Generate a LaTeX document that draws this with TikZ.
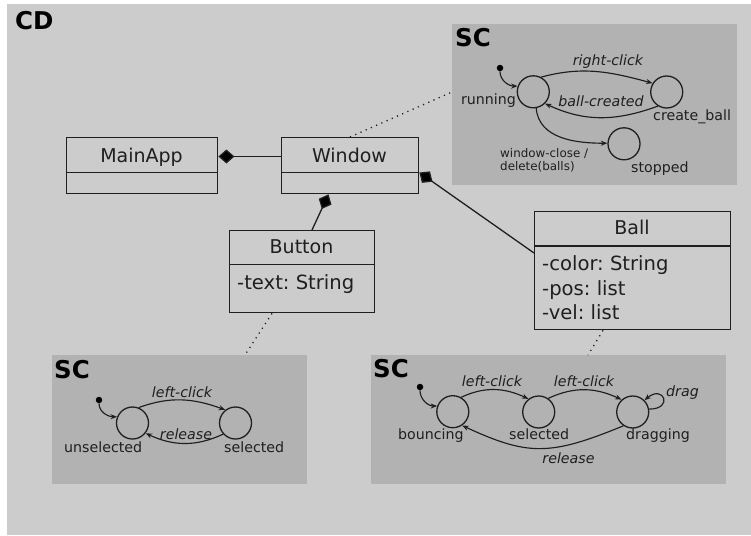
\documentclass[tikz,border=0pt]{standalone}
\usepackage{fontspec}
\setmainfont{DejaVu Sans}
\usetikzlibrary{arrows.meta,calc}
\definecolor{bgouter}{gray}{0.80}
\definecolor{bgsc}{gray}{0.70}
\definecolor{ink}{gray}{0.12}
\begin{document}
\frenchspacing
\begin{tikzpicture}[x=1pt,y=1pt,
  cls/.style={draw=ink, line width=1.4pt, inner sep=0pt, anchor=north west},
  clsname/.style={font=\fontsize{19}{22}\selectfont, text=ink, inner sep=0pt, anchor=base},
  attr/.style={font=\fontsize{19.6}{23}\selectfont, text=ink, inner sep=0pt, anchor=base west},
  scbox/.style={fill=bgsc, draw=none, inner sep=0pt, anchor=north west},
  title/.style={font=\fontsize{24.5}{28}\selectfont\bfseries, text=black, inner sep=0pt, anchor=base west},
  state/.style={circle, draw=ink, line width=1.3pt, minimum size=32pt, inner sep=0pt},
  slabel/.style={font=\fontsize{14.2}{17}\selectfont, text=ink, inner sep=0pt},
  tlabel/.style={font=\fontsize{14.2}{17}\selectfont\itshape, text=ink, inner sep=0pt, anchor=base},
  smalllabel/.style={font=\fontsize{11.9}{13.5}\selectfont, text=ink, inner sep=0pt, anchor=base west},
  trans/.style={draw=ink, line width=1.15pt, -{Stealth[length=6.5pt,width=5pt]}},
  initdot/.style={circle, fill=black, minimum size=6.5pt, inner sep=0pt},
  comp/.style={draw=ink, line width=1.3pt, -{Diamond[length=16pt,width=14pt,fill=black]}},
  dots/.style={draw=ink, line width=1.3pt, dash pattern=on 1.2pt off 4.5pt},
  divider/.style={draw=ink, line width=1.4pt},
]
\useasboundingbox (0,0) rectangle (751,-535);
\fill[bgouter] (7,-4) rectangle (751,-535);
\node[title] (cd) at (15,-30) {CD};

% state chart boxes
\node[scbox, minimum width=285pt, minimum height=161pt] (sc1) at (452,-24) {};
\node[scbox, minimum width=255pt, minimum height=129pt] (sc2) at (52,-355) {};
\node[scbox, minimum width=355pt, minimum height=129pt] (sc3) at (371,-355) {};

% classes
\node[cls, minimum width=151pt, minimum height=56pt] (mainapp) at (66,-137) {};
\draw[divider] ($(mainapp.north west)+(0,-35.5)$) -- ($(mainapp.north east)+(0,-35.5)$);
\node[clsname] (mainappname) at (141.5,-162.7) {MainApp};

\node[cls, minimum width=137pt, minimum height=56pt] (window) at (281,-137) {};
\draw[divider] ($(window.north west)+(0,-35.5)$) -- ($(window.north east)+(0,-35.5)$);
\node[clsname] (windowname) at (349.5,-162.7) {Window};

\node[cls, minimum width=145pt, minimum height=82pt] (button) at (229,-230) {};
\draw[divider] ($(button.north west)+(0,-34.5)$) -- ($(button.north east)+(0,-34.5)$);
\node[clsname] (buttonname) at (301.5,-253.3) {Button};
\node[attr] (buttonattr) at (237,-289.3) {-text: String};

\node[cls, minimum width=196pt, minimum height=118pt] (ball) at (534,-211) {};
\draw[divider] ($(ball.north west)+(0,-35)$) -- ($(ball.north east)+(0,-35)$);
\node[clsname] (ballname) at (632,-234.3) {Ball};
\node[attr] (ballattr1) at (542,-270.7) {-color: String};
\node[attr] (ballattr2) at (542,-295) {-pos: list};
\node[attr] (ballattr3) at (542,-319.3) {-vel: list};

% composition connectors
\draw[comp] ($(window.north west)+(0,-19.5)$) -- ($(mainapp.north east)+(0,-19.5)$);
\draw[comp] ($(button.north west)+(83,0)$) -- ($(window.south west)+(47.5,0)$);
\draw[comp] ($(ball.north west)+(0,-42)$) -- ($(window.north east)+(0,-35.5)$);

% dotted links to state charts
\draw[dots] ($(window.north west)+(69,0)$) -- ($(sc1.north west)+(0,-68)$);
\draw[dots] ($(button.south west)+(43,0)$) -- ($(sc2.north west)+(193,0)$);
\draw[dots] ($(ball.south west)+(69,0)$) -- ($(sc3.north west)+(217,0)$);

% state chart 1
\node[title] (sc1t) at (455,-47) {SC};
\node[initdot] (dot1) at (500,-68) {};
\node[state] (running) at (533.3,-91.8) {};
\node[state] (createball) at (666.7,-92) {};
\node[state] (stopped) at (624,-143.8) {};
\node[slabel, anchor=base east] (runningl) at (516,-104) {running};
\node[slabel, anchor=base west] (createballl) at (653,-120.5) {create\_ball};
\node[slabel, anchor=base west] (stoppedl) at (631,-172) {stopped};
\node[tlabel] (rclick) at (608,-65.5) {right-click};
\node[tlabel] (bcreated) at (601,-106) {ball-created};
\node[smalllabel] (wclose1) at (500,-157.5) {window-close /};
\node[smalllabel] (wclose2) at (500,-170.5) {delete(balls)};
\draw[trans] (dot1) to[out=-90,in=180] (running.160);
\draw[trans] (running.62) to[out=15,in=165] (createball.148);
\draw[trans] (createball.238) to[out=200,in=-25] (running.-45);
\draw[trans] (running.-80) to[out=-85,in=180] (stopped.178);

% state chart 2
\node[title] (sc2t) at (54,-378) {SC};
\node[initdot] (dot2) at (99,-400) {};
\node[state] (unsel) at (132.5,-423) {};
\node[state] (sel1) at (235.5,-423) {};
\node[slabel, anchor=base west] (unsell) at (64,-452) {unselected};
\node[slabel, anchor=base west] (sel1l) at (224,-452) {selected};
\node[tlabel] (lclick1) at (182,-397.3) {left-click};
\node[tlabel] (release1) at (186,-439.3) {release};
\draw[trans] (dot2) to[out=-90,in=180] (unsel.158);
\draw[trans] (unsel.68) to[out=20,in=160] (sel1.128);
\draw[trans] (sel1.222) to[out=205,in=-25] (unsel.-38);

% state chart 3
\node[title] (sc3t) at (373,-377) {SC};
\node[initdot] (dot3) at (420,-387) {};
\node[state] (bouncing) at (452.8,-411.7) {};
\node[state] (sel2) at (538.7,-412) {};
\node[state] (dragging) at (632.7,-412) {};
\node[slabel, anchor=base west] (bouncingl) at (398,-439.5) {bouncing};
\node[slabel, anchor=base west] (sel2l) at (509,-439.5) {selected};
\node[slabel, anchor=base west] (draggingl) at (626,-439.5) {dragging};
\node[tlabel] (lclick2) at (492,-386.7) {left-click};
\node[tlabel] (lclick3) at (584,-386.7) {left-click};
\node[tlabel, anchor=base west] (dragl) at (666,-396.7) {drag};
\node[tlabel] (release2) at (568.5,-463.3) {release};
\draw[trans] (dot3) to[out=-90,in=180] (bouncing.160);
\draw[trans] (bouncing.60) to[out=25,in=155] (sel2.128);
\draw[trans] (sel2.55) to[out=25,in=155] (dragging.132);
\draw[trans] (dragging.10) to[out=0,in=40,distance=25pt] (dragging.45);
\draw[trans] (dragging.236) .. controls (550,-456) and (528,-456) .. (bouncing.-56);
\end{tikzpicture}
\end{document}
